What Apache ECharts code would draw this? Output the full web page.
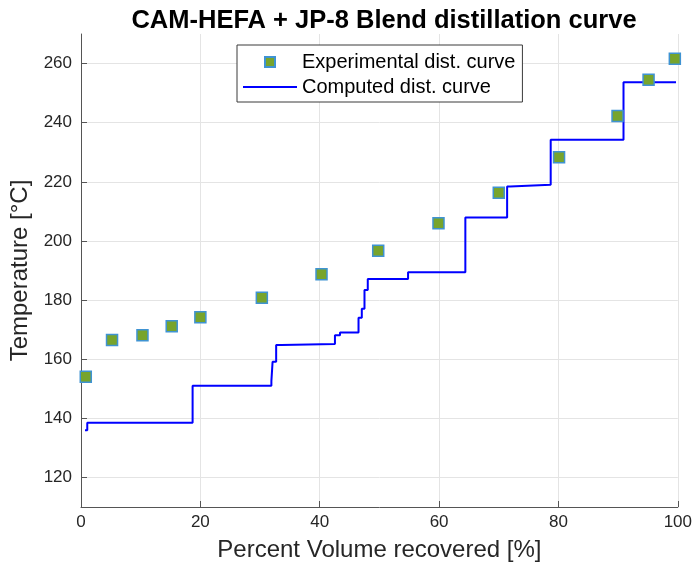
<!DOCTYPE html>
<html>
<head>
<meta charset="utf-8">
<script src="https://cdn.jsdelivr.net/npm/echarts@6/dist/echarts.min.js"></script>
<style>html,body{margin:0;padding:0;background:#fff}#c{width:695px;height:570px}</style>
</head>
<body>
<div id="c"></div>
<script>
var expX = [0.8, 5.2, 10.3, 15.2, 20.0, 30.3, 40.3, 49.8, 59.9, 70.0, 80.1, 89.9, 95.1, 99.5];
var expY = [154.1, 166.5, 168.1, 171.1, 174.2, 180.8, 188.7, 196.7, 206.0, 216.3, 228.3, 242.3, 254.5, 261.6];
var compX = [0.67, 1.05, 18.7, 31.9, 32.1, 32.7, 33.6, 42.55, 43.4, 46.5, 47.05, 47.5, 48.05, 54.8, 64.4, 71.4, 71.9, 78.7, 90.9, 99.7];
var compY = [136.0, 138.5, 151.0, 152.6, 159.1, 164.8, 165.1, 168.1, 169.0, 174.0, 177.1, 183.4, 187.1, 189.4, 207.9, 218.4, 219.0, 234.2, 253.7, 253.7];
var yTicks = [120, 140, 160, 180, 200, 220, 240, 260];
var xTicks = [0, 20, 40, 60, 80, 100];

var FONT = 'Liberation Sans, Arial, sans-serif';
var chart = echarts.init(document.getElementById('c'), null, {renderer: 'canvas'});
var expData = expX.map(function (x, i) { return [x, expY[i]]; });
var compData = compX.map(function (x, i) { return [x, compY[i]]; });

chart.setOption({
  animation: false,
  backgroundColor: '#fff',
  title: {
    text: 'CAM-HEFA + JP-8 Blend distillation curve',
    left: 379, textAlign: 'center', top: 3,
    textStyle: {fontFamily: FONT, fontSize: 25.5, fontWeight: 'bold', color: '#000'}
  },
  grid: {left: 81, right: 14, top: 34, bottom: 63, containLabel: false},
  legend: {
    orient: 'vertical', left: 237, top: 45,
    backgroundColor: '#fff', borderColor: '#3a3a3a', borderWidth: 1,
    padding: [7, 7, 5, 6], itemGap: 5, itemWidth: 54, itemHeight: 10,
    textStyle: {fontFamily: FONT, fontSize: 20, color: '#000', lineHeight: 20},
    data: [
      {name: 'Experimental dist. curve', icon: 'path://M0,0H10V10H0Z'},
      {name: 'Computed dist. curve', icon: 'path://M0,0H54V2H0Z', itemStyle: {color: '#0000ff'}}
    ]
  },
  xAxis: {
    type: 'value', min: 0, max: 100, interval: 20,
    name: 'Percent Volume recovered [%]', nameLocation: 'middle', nameGap: 31,
    nameTextStyle: {fontFamily: FONT, fontSize: 24, color: '#262626'},
    axisLine: {show: true, lineStyle: {color: '#555', width: 1}},
    axisTick: {show: true, inside: true, length: 6, lineStyle: {color: '#555'}},
    axisLabel: {fontFamily: FONT, fontSize: 17, color: '#262626', margin: 7},
    splitLine: {show: true, lineStyle: {color: '#e4e4e4', width: 1}}
  },
  yAxis: {
    type: 'value', min: 110, max: 270,
    name: 'Temperature [°C]', nameLocation: 'middle', nameGap: 47, nameRotate: 90,
    nameTextStyle: {fontFamily: FONT, fontSize: 24, color: '#262626'},
    axisLine: {show: true, lineStyle: {color: '#555', width: 1}},
    axisTick: {show: true, inside: true, length: 6, customValues: yTicks, lineStyle: {color: '#555'}},
    axisLabel: {fontFamily: FONT, fontSize: 17, color: '#262626', margin: 9, customValues: yTicks},
    splitLine: {show: true, lineStyle: {color: '#e4e4e4', width: 1}}
  },
  series: [
    {
      name: 'Computed dist. curve', type: 'line', step: 'end',
      data: compData, showSymbol: false, symbol: 'none', z: 2,
      lineStyle: {color: '#0000ff', width: 2}, itemStyle: {color: '#0000ff'}
    },
    {
      name: 'Experimental dist. curve', type: 'scatter', data: expData,
      symbol: 'rect', symbolSize: 11, z: 3,
      itemStyle: {color: '#77a42c', borderColor: '#3f93d2', borderWidth: 1.5, opacity: 1}
    }
  ]
});
</script>
</body>
</html>
